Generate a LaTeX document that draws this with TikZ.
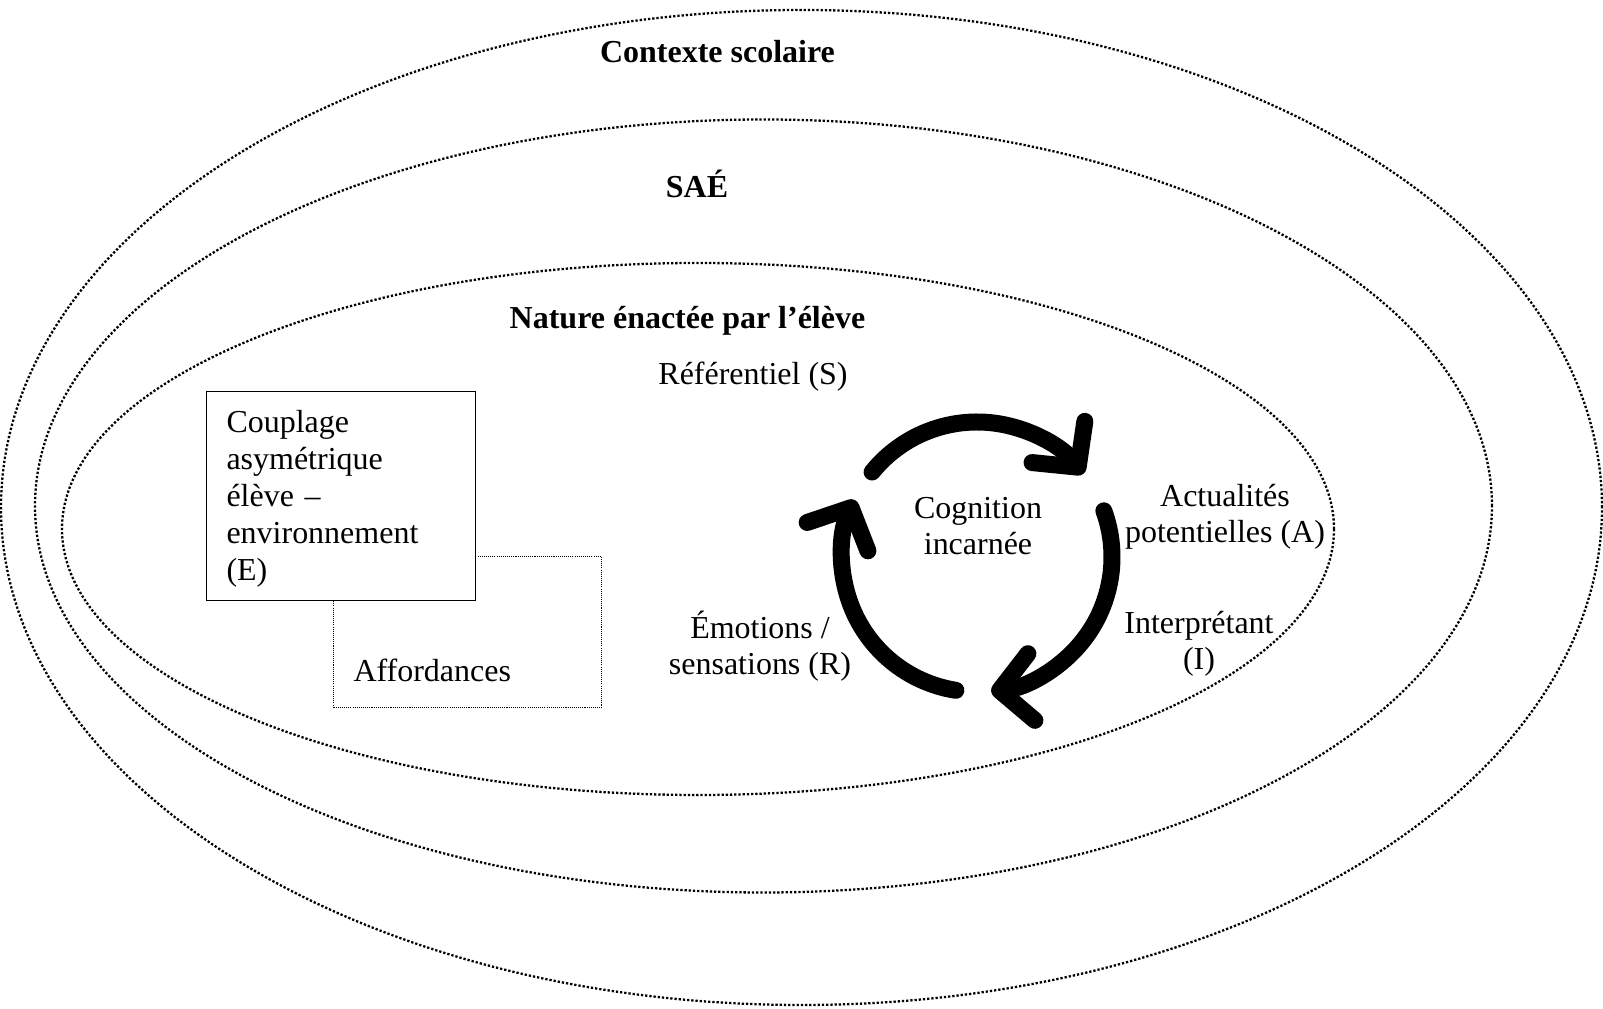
\documentclass[tikz,border=0pt]{standalone}
\usepackage{fontspec}
\setmainfont{Liberation Serif}
\usetikzlibrary{arrows.meta}
\tikzset{zone/.style={draw=black,line width=1.3pt,dash pattern=on 1.3pt off 1.1pt},
titre/.style={font=\fontsize{18.2}{20.8}\selectfont\bfseries,anchor=base,inner sep=0pt},
lab/.style={font=\fontsize{18.2}{20.8}\selectfont,align=center,anchor=base,inner sep=0pt},
cyc/.style={line width=0.34cm,line cap=round,-{Straight Barb[length=0.64cm,width=1.34cm,round]}}}

\begin{document}
\begin{tikzpicture}[x=1cm,y=1cm]
\useasboundingbox (0,0) rectangle (32.06,20.18);
\draw[zone] (16.03,10.03) ellipse [x radius=16.01,y radius=9.95];
\draw[zone] (15.27,10.06) ellipse [x radius=14.57,y radius=7.73];
\draw[zone] (13.96,9.60) ellipse [x radius=12.72,y radius=5.32];
\node[titre] (contexte) at (14.35,18.92) {Contexte scolaire};
\node[titre] (sae) at (13.94,16.22) {SAÉ};
\node[titre] (nature) at (13.75,13.6) {Nature énactée par l’élève};
\node[lab] (ref) at (15.06,12.48) {Référentiel (S)};
% boites
\node[draw,line width=0.6pt,dash pattern=on 0.6pt off 0.6pt,anchor=south west,font=\fontsize{18.2}{20.8}\selectfont,text width=4.56cm,inner xsep=0.4cm,inner ysep=0pt,text height=2.5cm,text depth=0.52cm] (afford) at (6.66,6.02) {Affordances};
\node[draw,line width=0.6pt,fill=white,anchor=north west,align=left,font=\fontsize{18.2}{21}\selectfont,text width=4.58cm,inner xsep=0.4cm,inner ysep=0pt,text height=0.82cm,text depth=3.36cm] (couplage) at (4.12,12.36) {Couplage\\asymétrique\\élève –\\environnement\\(E)};
% cycle
\coordinate (cog) at (19.54,9.04);
\node[lab] (cognition) at (19.56,9.08) {Cognition\\incarnée};
\draw[cyc] ([shift={(141:2.7)}]cog) arc[start angle=141,end angle=38,radius=2.7];
\draw[cyc] ([shift={(20:2.7)}]cog) arc[start angle=20,end angle=-84,radius=2.7];
\draw[cyc] ([shift={(261:2.7)}]cog) arc[start angle=261,end angle=155,radius=2.7];
\node[lab] (actu) at (24.5,9.32) {Actualités\\potentielles (A)};
\node[lab] (interp) at (23.98,6.78) {Interprétant\\(I)};
\node[lab] (emo) at (15.2,6.68) {Émotions /\\sensations (R)};
\end{tikzpicture}
\end{document}
